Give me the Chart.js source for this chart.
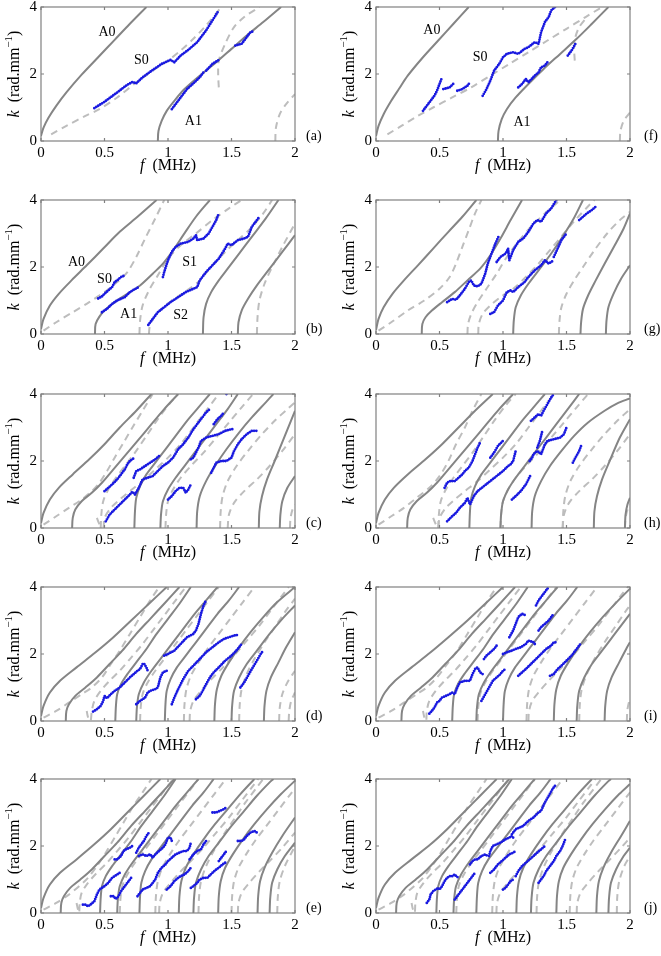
<!DOCTYPE html>
<html>
<head>
<meta charset="utf-8">
<script src="https://cdn.jsdelivr.net/npm/chart.js@4.4.1/dist/chart.umd.min.js"></script>
<style>
  body { margin: 0; background: #fff; width: 661px; height: 956px; position: relative; overflow: hidden; }
  canvas { position: absolute; }
</style>
</head>
<body>
<script>
// tick labels
const fTicks = [0, 0.5, 1, 1.5, 2];
const kTicks = [0, 2, 4];

// each curve is a flat list f0,k0,f1,k1,... read from the picture
// ---------- (a)
const aSolid = [
  [0,0.15, 0.02,0.4, 0.06,0.7, 0.12,1.05, 0.2,1.45, 0.32,1.98, 0.45,2.5, 0.58,3.02, 0.7,3.5, 0.83,4.0],
  [0.92,0, 0.925,0.3, 0.95,0.6, 0.99,0.9, 1.05,1.2, 1.13,1.55, 1.25,1.95, 1.38,2.35, 1.5,2.75, 1.62,3.15, 1.75,3.55, 1.89,4.0]
];
const aDashed = [
  [0.08,0.2, 0.2,0.45, 0.35,0.75, 0.46,0.95, 0.6,1.3, 0.75,1.75, 0.9,2.15, 1.0,2.4, 1.1,2.7, 1.2,3.05, 1.3,3.45, 1.42,4.0],
  [1.40,1.6, 1.395,2.0, 1.40,2.4, 1.45,2.9, 1.52,3.4, 1.6,3.7, 1.72,4.0],
  [1.845,0, 1.85,0.4, 1.88,0.8, 1.93,1.1, 2.0,1.4]
];
const aBlue = [
  [0.42,0.98, 0.5,1.17, 0.6,1.45, 0.68,1.68, 0.72,1.76, 0.75,1.72, 0.8,1.9, 0.88,2.12, 0.95,2.3, 1.02,2.42, 1.05,2.35, 1.1,2.55, 1.16,2.72, 1.23,2.95, 1.3,3.3, 1.35,3.6, 1.40,3.9],
  [1.03,0.95, 1.06,1.1, 1.1,1.3, 1.15,1.55, 1.2,1.72, 1.25,1.9, 1.28,2.05],
  [1.3,2.1, 1.35,2.3, 1.40,2.42],
  [1.53,2.85, 1.58,2.9, 1.62,3.1, 1.65,3.25, 1.68,3.28]
];
// ---------- (f)
const fSolid = [
  [0,0.15, 0.02,0.45, 0.06,0.8, 0.12,1.2, 0.18,1.55, 0.25,1.95, 0.37,2.5, 0.49,3.0, 0.61,3.5, 0.73,4.0],
  [0.96,0, 0.965,0.3, 0.99,0.65, 1.03,0.95, 1.1,1.3, 1.2,1.7, 1.32,2.15, 1.45,2.6, 1.58,3.05, 1.7,3.5, 1.83,4.0]
];
const fDashed = [
  [0.09,0.2, 0.2,0.45, 0.33,0.75, 0.45,1.0, 0.6,1.3, 0.75,1.6, 0.9,1.95, 1.05,2.3, 1.2,2.65, 1.35,3.0, 1.5,3.35, 1.65,3.7, 1.78,4.0],
  [1.565,2.4, 1.56,2.8, 1.57,3.1, 1.6,3.4, 1.65,3.65],
  [1.92,0, 1.925,0.3, 1.95,0.6, 2.0,0.85]
];
const fBlue = [
  [0.37,0.9, 0.4,1.05, 0.43,1.2, 0.46,1.35, 0.48,1.5, 0.5,1.7, 0.52,1.9],
  [0.53,1.55, 0.58,1.6, 0.62,1.75],
  [0.64,1.5, 0.68,1.55, 0.72,1.65, 0.74,1.75],
  [0.84,1.35, 0.87,1.55, 0.9,1.8, 0.93,2.1, 0.97,2.3, 1.0,2.5, 1.03,2.6, 1.08,2.65, 1.12,2.6, 1.17,2.75, 1.2,2.8, 1.25,2.95, 1.28,2.9, 1.3,3.25, 1.33,3.55, 1.36,3.7, 1.38,3.9, 1.41,4.0],
  [1.12,1.6, 1.15,1.7, 1.18,1.85, 1.2,1.75, 1.25,1.95, 1.28,2.05, 1.3,2.2, 1.33,2.25, 1.36,2.4],
  [1.51,2.55, 1.54,2.7, 1.57,2.9]
];
// ---------- (b)
const bSolid = [
  [0,0.15, 0.02,0.45, 0.07,0.85, 0.14,1.2, 0.24,1.6, 0.36,2.05, 0.49,2.55, 0.62,3.05, 0.76,3.5, 0.91,4.0],
  [0.425,0, 0.43,0.3, 0.46,0.52, 0.5,0.7, 0.58,0.95, 0.68,1.2, 0.78,1.45, 0.88,1.8, 0.96,2.1, 1.04,2.5, 1.12,2.95, 1.22,3.5, 1.33,4.0],
  [1.275,0, 1.28,0.5, 1.3,0.9, 1.34,1.25, 1.4,1.6, 1.47,1.95, 1.56,2.4, 1.66,2.9, 1.77,3.45, 1.87,4.0],
  [1.55,0, 1.555,0.35, 1.58,0.7, 1.63,1.05, 1.7,1.45, 1.8,1.95, 1.9,2.45, 2.0,2.95]
];
const bDashed = [
  [0.02,0.1, 0.12,0.35, 0.25,0.65, 0.38,0.95, 0.5,1.25, 0.6,1.55, 0.68,1.85, 0.75,2.3, 0.82,2.85, 0.9,3.45, 0.97,4.0],
  [0.775,0, 0.78,0.4, 0.8,0.85, 0.85,1.3, 0.92,1.75, 1.0,2.25, 1.1,2.65, 1.22,3.0, 1.35,3.4, 1.48,3.75, 1.58,4.0],
  [0.85,0, 0.855,0.2, 0.88,0.45, 0.95,0.75, 1.05,1.05, 1.15,1.3, 1.25,1.6, 1.35,2.05, 1.45,2.45, 1.55,2.8, 1.65,3.15, 1.75,3.6, 1.82,4.0],
  [1.70,0, 1.705,0.5, 1.72,1.0, 1.76,1.5, 1.82,2.0, 1.9,2.6, 2.0,3.3]
];
const bBlue = [
  [0.45,1.06, 0.48,1.12, 0.5,1.2, 0.53,1.3, 0.56,1.4, 0.58,1.55, 0.6,1.6, 0.63,1.7, 0.66,1.75],
  [0.48,0.65, 0.52,0.75, 0.56,0.9, 0.6,1.0, 0.63,1.05, 0.66,1.1, 0.7,1.25, 0.73,1.32, 0.77,1.4],
  [0.96,1.7, 0.97,1.85, 1.0,2.2, 1.03,2.45, 1.06,2.6, 1.1,2.7, 1.16,2.75, 1.2,2.85, 1.22,2.95, 1.23,2.8, 1.28,2.85, 1.32,3.0, 1.35,3.2, 1.38,3.4, 1.40,3.6],
  [0.845,0.27, 0.88,0.45, 0.92,0.65, 0.97,0.8, 1.02,0.95, 1.08,1.1, 1.14,1.25, 1.2,1.35, 1.23,1.4, 1.25,1.6, 1.3,1.85, 1.35,2.05, 1.4,2.25, 1.45,2.55, 1.47,2.7, 1.5,2.65, 1.55,2.8, 1.6,2.85, 1.63,2.9, 1.66,3.2, 1.7,3.4, 1.72,3.5]
];
// ---------- (g)
const gSolid = [
  [0,0.12, 0.02,0.45, 0.06,0.8, 0.13,1.2, 0.22,1.6, 0.33,2.05, 0.45,2.55, 0.57,3.05, 0.68,3.5, 0.79,4.0],
  [0.36,0, 0.365,0.3, 0.39,0.5, 0.44,0.7, 0.52,0.95, 0.62,1.25, 0.72,1.6, 0.82,1.95, 0.9,2.35, 0.98,2.85, 1.06,3.4, 1.15,4.0],
  [1.08,0, 1.085,0.4, 1.1,0.8, 1.14,1.15, 1.2,1.5, 1.28,1.9, 1.37,2.35, 1.46,2.85, 1.55,3.4, 1.63,4.0],
  [1.61,0, 1.615,0.35, 1.63,0.75, 1.67,1.15, 1.73,1.6, 1.8,2.1, 1.88,2.65, 1.95,3.15, 2.0,3.6],
  [1.81,0, 1.815,0.4, 1.83,0.8, 1.87,1.2, 1.93,1.65, 2.0,2.05]
];
const gDashed = [
  [0.02,0.1, 0.12,0.35, 0.25,0.7, 0.38,1.0, 0.5,1.35, 0.58,1.7, 0.63,2.1, 0.68,2.6, 0.73,3.1, 0.78,3.6, 0.83,4.0],
  [0.72,0, 0.725,0.3, 0.75,0.6, 0.8,0.95, 0.87,1.35, 0.95,1.8, 1.03,2.3, 1.12,2.75, 1.22,3.2, 1.33,3.6, 1.45,4.0],
  [0.805,0, 0.81,0.3, 0.84,0.6, 0.9,0.85, 0.98,1.1, 1.08,1.35, 1.18,1.7, 1.28,2.1, 1.38,2.55, 1.48,3.0, 1.58,3.45, 1.68,3.85, 1.72,4.0],
  [1.44,0, 1.445,0.4, 1.46,0.8, 1.5,1.2, 1.56,1.6, 1.63,2.0, 1.72,2.5, 1.82,3.0, 1.92,3.4, 2.0,3.65]
];
const gBlue = [
  [0.56,0.95, 0.6,1.05, 0.63,1.02, 0.66,1.15, 0.7,1.35, 0.73,1.55, 0.75,1.6, 0.77,1.45, 0.8,1.42, 0.83,1.5, 0.86,1.8, 0.88,2.1, 0.91,2.4, 0.94,2.7, 0.97,2.95],
  [0.95,2.15, 0.98,2.3, 1.02,2.4, 1.04,2.55, 1.05,2.2, 1.08,2.5, 1.12,2.75, 1.16,2.85, 1.2,3.05, 1.24,3.3, 1.27,3.4, 1.3,3.35, 1.34,3.6, 1.38,3.75, 1.42,4.0],
  [0.9,0.6, 0.93,0.65, 0.96,0.85, 1.0,1.0, 1.03,1.25, 1.06,1.3, 1.08,1.25, 1.12,1.4, 1.17,1.55, 1.2,1.7, 1.25,1.9, 1.3,2.05, 1.33,2.2, 1.36,2.1, 1.4,2.2],
  [1.4,2.3, 1.43,2.55, 1.46,2.8, 1.5,3.0],
  [1.6,3.4, 1.63,3.5, 1.66,3.6, 1.7,3.7, 1.73,3.8]
];
// ---------- (c)
const cSolid = [
  [0,0.15, 0.02,0.45, 0.07,0.85, 0.14,1.2, 0.25,1.6, 0.38,2.05, 0.5,2.5, 0.62,3.0, 0.75,3.5, 0.87,4.0],
  [0.245,0, 0.25,0.3, 0.27,0.55, 0.32,0.8, 0.4,1.05, 0.48,1.35, 0.57,1.75, 0.66,2.15, 0.76,2.6, 0.87,3.1, 0.97,3.55, 1.08,4.0],
  [0.735,0, 0.74,0.5, 0.75,0.9, 0.78,1.25, 0.83,1.6, 0.9,1.95, 0.98,2.35, 1.06,2.75, 1.15,3.2, 1.24,3.6, 1.33,4.0],
  [0.94,0, 0.945,0.4, 0.96,0.8, 1.0,1.15, 1.06,1.5, 1.14,1.9, 1.22,2.3, 1.3,2.7, 1.38,3.1, 1.47,3.55, 1.55,4.0],
  [1.225,0, 1.23,0.5, 1.25,0.95, 1.3,1.4, 1.37,1.85, 1.46,2.35, 1.56,2.85, 1.66,3.3, 1.77,3.75, 1.83,4.0],
  [1.715,0, 1.72,0.5, 1.74,0.95, 1.78,1.45, 1.84,2.0, 1.92,2.75, 2.0,3.5],
  [1.88,0, 1.885,0.4, 1.9,0.8, 1.94,1.2, 2.0,1.55]
];
const cDashed = [
  [0.02,0.1, 0.12,0.35, 0.22,0.6, 0.32,0.85, 0.4,1.1, 0.46,1.35, 0.52,1.7, 0.58,2.1, 0.65,2.55, 0.72,3.0, 0.8,3.5, 0.88,4.0],
  [0.47,0, 0.475,0.4, 0.49,0.8, 0.53,1.15, 0.59,1.5, 0.66,1.85, 0.74,2.25, 0.83,2.75, 0.92,3.25, 1.01,3.7, 1.08,4.0],
  [0.44,0.3, 0.46,0.12, 0.49,0, 0.5,0.3, 0.55,0.6, 0.62,0.85, 0.7,1.1, 0.8,1.4, 0.9,1.75, 1.0,2.1, 1.1,2.5, 1.2,3.0, 1.3,3.5, 1.4,4.0],
  [0.98,0, 0.985,0.4, 1.0,0.8, 1.04,1.15, 1.1,1.5, 1.18,1.85, 1.28,2.25, 1.38,2.7, 1.48,3.15, 1.58,3.6, 1.67,4.0],
  [1.41,0, 1.415,0.5, 1.43,0.95, 1.47,1.4, 1.54,1.85, 1.64,2.35, 1.74,2.8, 1.84,3.2, 1.94,3.55, 2.0,3.75],
  [1.47,0, 1.48,0.4, 1.52,0.75, 1.6,1.1, 1.7,1.45, 1.8,1.85, 1.9,2.3, 2.0,2.8],
  [1.96,0, 1.965,0.3, 1.98,0.55, 2.0,0.7]
];
const cBlue = [
  [0.5,1.1, 0.53,1.2, 0.56,1.3, 0.6,1.45, 0.63,1.6, 0.66,1.75, 0.68,1.9, 0.7,2.0, 0.73,2.08],
  [0.73,1.5, 0.75,1.7, 0.78,1.75, 0.82,1.85, 0.86,1.95, 0.9,2.05, 0.93,2.15],
  [0.51,0.2, 0.54,0.4, 0.58,0.55, 0.62,0.7, 0.66,0.85, 0.7,1.0, 0.72,1.08, 0.74,1.0, 0.77,1.2, 0.8,1.45, 0.84,1.5, 0.88,1.55, 0.92,1.7, 0.96,1.85, 1.0,1.95, 1.04,2.1, 1.08,2.35, 1.12,2.5, 1.16,2.7, 1.2,2.95, 1.25,3.2, 1.3,3.45, 1.33,3.55],
  [1.0,0.85, 1.03,0.95, 1.06,1.1, 1.09,1.2, 1.12,1.2, 1.14,1.05, 1.16,1.15, 1.18,1.3],
  [1.18,2.05, 1.2,2.1, 1.22,2.25, 1.24,2.4, 1.26,2.6, 1.3,2.7, 1.35,2.75, 1.4,2.8, 1.45,2.9, 1.5,2.95, 1.52,2.95],
  [1.36,3.1, 1.39,3.25, 1.42,3.35, 1.44,3.45],
  [1.34,1.65, 1.36,1.8, 1.38,1.95, 1.42,2.0, 1.46,2.0, 1.5,2.1, 1.52,2.3, 1.55,2.5, 1.58,2.65, 1.62,2.8, 1.66,2.9, 1.7,2.9],
  [1.46,4.0, 1.47,3.95]
];
// ---------- (h)
const hSolid = [
  [0,0.15, 0.02,0.45, 0.07,0.85, 0.14,1.2, 0.25,1.6, 0.39,2.05, 0.52,2.5, 0.65,3.0, 0.78,3.5, 0.92,4.0],
  [0.245,0, 0.25,0.3, 0.27,0.55, 0.32,0.8, 0.4,1.05, 0.48,1.35, 0.57,1.75, 0.66,2.15, 0.76,2.6, 0.87,3.1, 0.97,3.55, 1.08,4.0],
  [0.735,0, 0.74,0.5, 0.75,0.9, 0.78,1.25, 0.83,1.6, 0.9,1.95, 0.98,2.35, 1.06,2.75, 1.15,3.2, 1.24,3.6, 1.33,4.0],
  [0.98,0, 0.985,0.4, 1.0,0.8, 1.04,1.15, 1.1,1.5, 1.18,1.9, 1.26,2.3, 1.34,2.7, 1.42,3.1, 1.51,3.55, 1.6,4.0],
  [1.225,0, 1.23,0.5, 1.25,0.95, 1.3,1.4, 1.37,1.85, 1.46,2.3, 1.56,2.75, 1.67,3.15, 1.8,3.5, 1.9,3.72, 2.0,3.87],
  [1.715,0, 1.72,0.5, 1.74,0.95, 1.78,1.45, 1.84,2.0, 1.92,2.7, 2.0,3.25],
  [1.96,0, 1.965,0.4, 1.98,0.7, 2.0,0.9]
];
const hDashed = [
  [0.02,0.1, 0.12,0.35, 0.22,0.6, 0.32,0.9, 0.42,1.2, 0.5,1.55, 0.57,2.0, 0.63,2.5, 0.7,3.0, 0.76,3.5, 0.83,4.0],
  [0.49,0, 0.495,0.4, 0.51,0.8, 0.55,1.15, 0.61,1.5, 0.68,1.85, 0.76,2.25, 0.85,2.75, 0.94,3.25, 1.03,3.7, 1.1,4.0],
  [0.45,0.3, 0.47,0.12, 0.49,0, 0.5,0.3, 0.55,0.6, 0.62,0.85, 0.7,1.1, 0.8,1.4, 0.9,1.75, 1.0,2.1, 1.1,2.5, 1.2,3.0, 1.3,3.5, 1.4,4.0],
  [0.98,0, 0.985,0.4, 1.0,0.8, 1.04,1.15, 1.1,1.5, 1.18,1.85, 1.28,2.25, 1.38,2.7, 1.48,3.15, 1.58,3.6, 1.67,4.0],
  [1.47,0, 1.475,0.5, 1.49,0.95, 1.53,1.4, 1.6,1.85, 1.7,2.35, 1.8,2.8, 1.9,3.2, 2.0,3.55],
  [1.47,0, 1.48,0.4, 1.52,0.75, 1.6,1.1, 1.7,1.45, 1.8,1.85, 1.9,2.3, 2.0,2.8],
  [1.96,0, 1.965,0.3, 1.98,0.55, 2.0,0.7]
];
const hBlue = [
  [0.54,1.2, 0.56,1.35, 0.58,1.4, 0.62,1.4, 0.65,1.5, 0.68,1.6, 0.7,1.7, 0.73,1.8, 0.76,2.0, 0.78,2.2, 0.8,2.4, 0.82,2.55],
  [0.9,2.1, 0.93,2.25, 0.96,2.45, 1.0,2.6],
  [0.56,0.2, 0.6,0.35, 0.63,0.45, 0.66,0.6, 0.7,0.75, 0.72,0.9, 0.74,0.7, 0.77,0.95, 0.8,1.1, 0.85,1.25, 0.9,1.4, 0.95,1.55, 1.0,1.7, 1.04,1.85, 1.06,1.9, 1.08,2.0, 1.1,2.3],
  [1.07,0.85, 1.1,0.95, 1.14,1.1, 1.18,1.3, 1.2,1.45, 1.22,1.6],
  [1.21,2.0, 1.23,2.1, 1.24,2.2, 1.27,2.3, 1.3,2.2, 1.33,2.5, 1.35,2.6, 1.4,2.65, 1.45,2.7, 1.48,2.8, 1.5,3.0],
  [1.27,2.4, 1.29,2.6, 1.31,2.9],
  [1.22,3.2, 1.25,3.3, 1.28,3.4, 1.3,3.35, 1.32,3.5, 1.35,3.7, 1.38,3.9, 1.4,4.0],
  [1.55,1.95, 1.57,2.1, 1.6,2.3, 1.62,2.5]
];
// ---------- (d)
const dSolid = [
  [0,0.15, 0.02,0.45, 0.07,0.85, 0.15,1.2, 0.28,1.6, 0.43,2.05, 0.57,2.5, 0.71,3.0, 0.85,3.5, 0.99,4.0],
  [0.195,0, 0.2,0.3, 0.22,0.5, 0.27,0.75, 0.35,1.0, 0.44,1.3, 0.54,1.7, 0.64,2.1, 0.75,2.6, 0.86,3.05, 0.97,3.5, 1.09,4.0],
  [0.585,0, 0.59,0.45, 0.6,0.8, 0.63,1.1, 0.68,1.4, 0.75,1.75, 0.83,2.15, 0.91,2.6, 1.0,3.05, 1.09,3.5, 1.18,4.0],
  [0.75,0, 0.755,0.4, 0.77,0.8, 0.81,1.15, 0.87,1.5, 0.95,1.9, 1.03,2.3, 1.12,2.75, 1.21,3.2, 1.3,3.6, 1.39,4.0],
  [0.975,0, 0.98,0.5, 0.99,0.9, 1.02,1.25, 1.07,1.6, 1.14,1.95, 1.22,2.35, 1.3,2.75, 1.39,3.2, 1.48,3.6, 1.56,4.0],
  [1.365,0, 1.37,0.5, 1.385,0.95, 1.42,1.35, 1.48,1.75, 1.56,2.2, 1.65,2.65, 1.75,3.1, 1.86,3.55, 2.0,4.0],
  [1.50,0, 1.505,0.45, 1.52,0.9, 1.56,1.3, 1.62,1.7, 1.7,2.1, 1.8,2.6, 1.9,3.05, 2.0,3.45],
  [1.755,0, 1.76,0.45, 1.775,0.9, 1.81,1.3, 1.87,1.75, 1.93,2.2, 2.0,2.65]
];
const dDashed = [
  [0.02,0.1, 0.12,0.3, 0.22,0.55, 0.32,0.8, 0.4,1.0, 0.48,1.3, 0.55,1.7, 0.62,2.1, 0.7,2.6, 0.78,3.1, 0.86,3.6, 0.93,4.0],
  [0.36,0.3, 0.37,0.12, 0.39,0, 0.4,0.3, 0.42,0.6, 0.47,0.9, 0.54,1.2, 0.62,1.5, 0.7,1.85, 0.79,2.25, 0.88,2.7, 0.97,3.15, 1.06,3.6, 1.14,4.0],
  [0.78,0, 0.785,0.4, 0.8,0.8, 0.84,1.15, 0.9,1.5, 0.97,1.85, 1.05,2.25, 1.14,2.7, 1.23,3.15, 1.32,3.6, 1.4,4.0],
  [1.125,0, 1.13,0.5, 1.145,0.95, 1.18,1.35, 1.24,1.75, 1.31,2.15, 1.4,2.6, 1.49,3.05, 1.59,3.55, 1.68,4.0],
  [1.17,0, 1.175,0.3, 1.2,0.6, 1.26,0.9, 1.33,1.2, 1.42,1.55, 1.52,1.95, 1.62,2.4, 1.72,2.85, 1.82,3.35, 1.9,3.75, 1.95,4.0],
  [1.56,0, 1.565,0.5, 1.58,0.95, 1.62,1.4, 1.68,1.85, 1.76,2.35, 1.85,2.85, 1.93,3.3, 2.0,3.65],
  [1.875,0, 1.88,0.4, 1.9,0.8, 1.94,1.15, 2.0,1.5],
  [1.95,0, 1.955,0.3, 1.97,0.6, 2.0,0.85]
];
const dBlue = [
  [0.41,0.28, 0.44,0.35, 0.47,0.45, 0.49,0.6, 0.5,0.75, 0.52,0.68, 0.55,0.8, 0.58,0.9, 0.62,1.0, 0.66,1.15, 0.7,1.3, 0.73,1.4, 0.76,1.5, 0.78,1.55, 0.8,1.7, 0.81,1.72, 0.83,1.6, 0.84,1.5],
  [0.75,0.5, 0.78,0.6, 0.82,0.7, 0.84,0.85, 0.86,0.9, 0.9,0.95, 0.92,1.0, 0.94,1.3, 0.96,1.45, 0.99,1.5],
  [0.97,1.95, 1.0,2.0, 1.05,2.1, 1.1,2.3, 1.15,2.5, 1.2,2.6, 1.22,2.7, 1.24,2.9, 1.26,3.2, 1.28,3.45, 1.3,3.6],
  [1.03,0.5, 1.05,0.7, 1.08,0.95, 1.12,1.25, 1.16,1.5, 1.2,1.65, 1.25,1.85, 1.3,2.05, 1.35,2.2, 1.4,2.35, 1.44,2.45, 1.48,2.5, 1.52,2.55, 1.55,2.57],
  [1.22,0.65, 1.25,0.75, 1.28,0.95, 1.3,1.1, 1.33,1.3, 1.36,1.45, 1.4,1.6, 1.45,1.8, 1.5,1.95, 1.55,2.15, 1.58,2.3],
  [1.57,1.0, 1.6,1.15, 1.63,1.35, 1.66,1.55, 1.7,1.8, 1.73,2.0, 1.75,2.1]
];
// ---------- (i)
const iSolid = [
  [0,0.15, 0.02,0.45, 0.07,0.85, 0.15,1.2, 0.28,1.6, 0.43,2.05, 0.57,2.5, 0.72,3.0, 0.86,3.5, 1.0,4.0],
  [0.2,0, 0.205,0.3, 0.225,0.5, 0.275,0.75, 0.355,1.0, 0.445,1.3, 0.545,1.7, 0.645,2.1, 0.755,2.6, 0.865,3.05, 0.975,3.5, 1.095,4.0],
  [0.6,0, 0.605,0.45, 0.615,0.8, 0.645,1.1, 0.695,1.4, 0.765,1.75, 0.845,2.15, 0.925,2.6, 1.015,3.05, 1.105,3.5, 1.195,4.0],
  [0.79,0, 0.795,0.4, 0.81,0.8, 0.85,1.15, 0.91,1.5, 0.99,1.9, 1.07,2.3, 1.16,2.75, 1.25,3.2, 1.34,3.6, 1.43,4.0],
  [1.0,0, 1.005,0.5, 1.015,0.9, 1.045,1.25, 1.095,1.6, 1.165,1.95, 1.245,2.35, 1.325,2.75, 1.415,3.2, 1.505,3.6, 1.585,4.0],
  [1.4,0, 1.405,0.5, 1.42,0.95, 1.455,1.35, 1.515,1.75, 1.595,2.2, 1.685,2.65, 1.785,3.1, 1.895,3.55, 2.0,3.95],
  [1.58,0, 1.585,0.45, 1.6,0.9, 1.64,1.3, 1.7,1.7, 1.78,2.1, 1.88,2.6, 1.97,3.05, 2.0,3.2],
  [1.8,0, 1.805,0.45, 1.82,0.9, 1.855,1.3, 1.915,1.75, 1.97,2.15, 2.0,2.35]
];
const iDashed = [
  [0.02,0.1, 0.12,0.3, 0.22,0.55, 0.32,0.8, 0.4,1.0, 0.48,1.3, 0.56,1.7, 0.64,2.1, 0.72,2.6, 0.8,3.1, 0.88,3.6, 0.95,4.0],
  [0.37,0.3, 0.38,0.12, 0.395,0, 0.4,0.3, 0.42,0.6, 0.47,0.9, 0.54,1.2, 0.62,1.5, 0.7,1.85, 0.79,2.25, 0.88,2.7, 0.97,3.15, 1.06,3.6, 1.14,4.0],
  [0.8,0, 0.805,0.4, 0.82,0.8, 0.86,1.15, 0.92,1.5, 0.99,1.85, 1.07,2.25, 1.16,2.7, 1.25,3.15, 1.34,3.6, 1.42,4.0],
  [1.185,0, 1.19,0.5, 1.205,0.95, 1.24,1.35, 1.3,1.75, 1.37,2.15, 1.46,2.6, 1.55,3.05, 1.65,3.55, 1.74,4.0],
  [1.2,0, 1.205,0.3, 1.23,0.6, 1.29,0.9, 1.36,1.2, 1.45,1.55, 1.55,1.95, 1.65,2.4, 1.75,2.85, 1.85,3.35, 1.93,3.75, 1.98,4.0],
  [1.6,0, 1.605,0.5, 1.62,0.95, 1.66,1.4, 1.72,1.85, 1.8,2.35, 1.89,2.85, 1.97,3.3, 2.0,3.45],
  [1.975,0, 1.98,0.35, 2.0,0.7]
];
const iBlue = [
  [0.42,0.22, 0.44,0.3, 0.46,0.4, 0.48,0.55, 0.5,0.6, 0.52,0.7, 0.55,0.75, 0.58,0.8, 0.6,0.85, 0.62,0.8, 0.64,1.0, 0.66,1.15, 0.7,1.2, 0.74,1.2, 0.76,1.4, 0.78,1.55, 0.8,1.6, 0.82,1.45, 0.84,1.4],
  [0.85,1.85, 0.87,1.95, 0.9,2.05, 0.93,2.15, 0.96,2.3],
  [0.83,0.6, 0.86,0.8, 0.89,1.0, 0.92,1.2, 0.95,1.3, 0.98,1.4, 1.0,1.5, 1.02,1.55],
  [1.0,2.0, 1.03,2.05, 1.07,2.1, 1.1,2.15, 1.14,2.2, 1.18,2.3, 1.2,2.4, 1.24,2.35, 1.26,2.25],
  [1.05,2.5, 1.08,2.7, 1.1,2.9, 1.12,3.1, 1.15,3.2, 1.18,3.15],
  [1.26,3.45, 1.28,3.6, 1.32,3.8, 1.36,4.0],
  [1.28,2.7, 1.3,2.8, 1.33,2.9, 1.36,3.0, 1.38,3.1, 1.4,3.2],
  [1.12,1.35, 1.15,1.45, 1.18,1.55, 1.22,1.7, 1.26,1.85, 1.3,2.0, 1.34,2.15, 1.38,2.25, 1.4,2.35, 1.42,2.35],
  [1.37,1.35, 1.4,1.4, 1.43,1.55, 1.46,1.65, 1.5,1.8, 1.54,1.95, 1.58,2.15, 1.61,2.3]
];
// ---------- (e)
const eSolid = [
  [0,0.15, 0.02,0.45, 0.07,0.85, 0.15,1.2, 0.28,1.6, 0.42,2.05, 0.55,2.5, 0.68,3.0, 0.81,3.5, 0.94,4.0],
  [0.155,0, 0.16,0.3, 0.18,0.5, 0.23,0.75, 0.31,1.0, 0.4,1.3, 0.5,1.7, 0.6,2.1, 0.71,2.6, 0.82,3.05, 0.93,3.5, 1.05,4.0],
  [0.465,0, 0.47,0.45, 0.48,0.8, 0.51,1.1, 0.56,1.4, 0.63,1.75, 0.71,2.15, 0.79,2.6, 0.88,3.05, 0.97,3.5, 1.06,4.0],
  [0.60,0, 0.605,0.4, 0.62,0.8, 0.66,1.15, 0.72,1.5, 0.8,1.9, 0.88,2.3, 0.97,2.75, 1.06,3.2, 1.15,3.6, 1.24,4.0],
  [0.775,0, 0.78,0.5, 0.79,0.9, 0.82,1.25, 0.87,1.6, 0.94,1.95, 1.02,2.35, 1.1,2.75, 1.19,3.2, 1.28,3.6, 1.36,4.0],
  [1.085,0, 1.09,0.5, 1.105,0.95, 1.14,1.35, 1.2,1.75, 1.28,2.2, 1.37,2.65, 1.47,3.1, 1.57,3.55, 1.68,4.0],
  [1.2,0, 1.205,0.45, 1.22,0.9, 1.26,1.3, 1.32,1.7, 1.4,2.1, 1.5,2.6, 1.6,3.05, 1.7,3.5, 1.8,3.9, 1.83,4.0],
  [1.395,0, 1.4,0.5, 1.415,0.95, 1.45,1.35, 1.51,1.75, 1.59,2.2, 1.68,2.65, 1.78,3.1, 1.89,3.55, 2.0,3.95],
  [1.705,0, 1.71,0.5, 1.725,0.95, 1.76,1.35, 1.82,1.8, 1.9,2.3, 2.0,2.85],
  [1.8,0, 1.805,0.45, 1.82,0.9, 1.86,1.3, 1.92,1.7, 2.0,2.1]
];
const eDashed = [
  [0.02,0.1, 0.12,0.3, 0.22,0.55, 0.3,0.8, 0.37,1.05, 0.44,1.4, 0.51,1.8, 0.58,2.25, 0.65,2.7, 0.72,3.15, 0.8,3.6, 0.87,4.0],
  [0.28,0.3, 0.29,0.12, 0.30,0, 0.305,0.3, 0.32,0.6, 0.37,0.9, 0.44,1.2, 0.52,1.5, 0.6,1.85, 0.69,2.25, 0.78,2.7, 0.87,3.15, 0.96,3.6, 1.04,4.0],
  [0.62,0, 0.625,0.4, 0.64,0.8, 0.68,1.15, 0.74,1.5, 0.81,1.85, 0.89,2.25, 0.98,2.7, 1.07,3.15, 1.16,3.6, 1.24,4.0],
  [0.9,0, 0.905,0.5, 0.92,0.95, 0.955,1.35, 1.015,1.75, 1.085,2.15, 1.175,2.6, 1.265,3.05, 1.365,3.55, 1.455,4.0],
  [0.93,0, 0.935,0.3, 0.96,0.6, 1.02,0.9, 1.09,1.2, 1.18,1.55, 1.28,1.95, 1.38,2.4, 1.48,2.85, 1.58,3.35, 1.66,3.75, 1.71,4.0],
  [1.24,0, 1.245,0.5, 1.26,0.95, 1.3,1.4, 1.36,1.85, 1.44,2.35, 1.53,2.85, 1.61,3.3, 1.7,3.75, 1.75,4.0],
  [1.5,0, 1.505,0.5, 1.52,0.95, 1.555,1.35, 1.615,1.75, 1.685,2.15, 1.775,2.6, 1.865,3.05, 1.965,3.55, 2.0,3.7],
  [1.55,0, 1.555,0.3, 1.58,0.6, 1.64,0.9, 1.71,1.2, 1.8,1.55, 1.9,1.95, 2.0,2.4],
  [1.86,0, 1.865,0.5, 1.88,0.95, 1.92,1.4, 1.98,1.85, 2.0,2.0]
];
const eBlue = [
  [0.33,0.25, 0.35,0.25, 0.37,0.2, 0.39,0.25, 0.42,0.35, 0.44,0.55, 0.46,0.7, 0.48,0.75, 0.5,0.8, 0.53,0.9, 0.56,1.05, 0.6,1.15, 0.62,1.2],
  [0.58,1.6, 0.6,1.6, 0.63,1.7, 0.65,1.85, 0.67,1.9, 0.7,1.95, 0.72,2.0],
  [0.55,0.5, 0.57,0.5, 0.59,0.42, 0.61,0.5, 0.63,0.65, 0.65,0.75, 0.67,0.85, 0.7,1.0, 0.72,1.1],
  [0.75,1.8, 0.77,1.95, 0.79,2.05, 0.81,2.15, 0.83,2.3, 0.85,2.4],
  [0.77,1.7, 0.8,1.75, 0.83,1.7, 0.86,1.75, 0.88,1.65, 0.9,1.75, 0.93,1.85, 0.96,1.95, 0.98,2.05, 1.0,2.25, 1.02,2.25, 1.03,2.15],
  [0.76,0.5, 0.78,0.6, 0.8,0.7, 0.83,0.75, 0.86,0.8, 0.88,0.9, 0.9,1.0, 0.92,1.2, 0.95,1.35, 0.98,1.45, 1.0,1.55, 1.03,1.65, 1.06,1.75, 1.09,1.8, 1.12,1.85, 1.15,1.85, 1.17,1.95, 1.18,2.1],
  [0.99,0.7, 1.02,0.8, 1.05,0.95, 1.08,1.05, 1.1,1.1, 1.13,1.15, 1.16,1.25, 1.18,1.35],
  [1.17,1.6, 1.2,1.75, 1.23,1.85, 1.26,1.9, 1.28,2.05, 1.31,2.2],
  [1.18,0.75, 1.2,0.8, 1.23,0.9, 1.25,1.0, 1.28,1.05, 1.31,1.05, 1.35,1.2, 1.38,1.3, 1.4,1.35, 1.43,1.45, 1.45,1.5, 1.46,1.45],
  [1.4,1.55, 1.42,1.65, 1.44,1.75, 1.46,1.85],
  [1.35,3.0, 1.38,3.0, 1.41,3.05, 1.44,3.1, 1.46,3.15],
  [1.55,2.15, 1.58,2.15, 1.6,2.2, 1.62,2.3, 1.65,2.4, 1.68,2.45, 1.7,2.4]
];
// ---------- (j)
const jSolid = [
  [0,0.15, 0.02,0.45, 0.07,0.85, 0.15,1.2, 0.28,1.6, 0.43,2.05, 0.56,2.5, 0.69,3.0, 0.82,3.5, 0.95,4.0],
  [0.158,0, 0.163,0.3, 0.183,0.5, 0.233,0.75, 0.313,1.0, 0.403,1.3, 0.503,1.7, 0.603,2.1, 0.713,2.6, 0.823,3.05, 0.933,3.5, 1.05,4.0],
  [0.475,0, 0.48,0.45, 0.49,0.8, 0.52,1.1, 0.57,1.4, 0.64,1.75, 0.72,2.15, 0.8,2.6, 0.89,3.05, 0.98,3.5, 1.07,4.0],
  [0.61,0, 0.615,0.4, 0.63,0.8, 0.67,1.15, 0.73,1.5, 0.81,1.9, 0.89,2.3, 0.98,2.75, 1.07,3.2, 1.16,3.6, 1.25,4.0],
  [0.79,0, 0.795,0.5, 0.805,0.9, 0.835,1.25, 0.885,1.6, 0.955,1.95, 1.035,2.35, 1.115,2.75, 1.205,3.2, 1.295,3.6, 1.375,4.0],
  [1.105,0, 1.11,0.5, 1.125,0.95, 1.16,1.35, 1.22,1.75, 1.3,2.2, 1.39,2.65, 1.49,3.1, 1.59,3.55, 1.7,4.0],
  [1.22,0, 1.225,0.45, 1.24,0.9, 1.28,1.3, 1.34,1.7, 1.42,2.1, 1.52,2.6, 1.62,3.05, 1.72,3.5, 1.82,3.9, 1.85,4.0],
  [1.42,0, 1.425,0.5, 1.44,0.95, 1.475,1.35, 1.535,1.75, 1.615,2.2, 1.705,2.65, 1.805,3.1, 1.915,3.55, 2.0,3.85],
  [1.735,0, 1.74,0.5, 1.755,0.95, 1.79,1.35, 1.85,1.8, 1.93,2.3, 2.0,2.75],
  [1.83,0, 1.835,0.45, 1.85,0.9, 1.89,1.3, 1.95,1.7, 2.0,1.95]
];
const jDashed = [
  [0.02,0.1, 0.12,0.3, 0.22,0.55, 0.3,0.8, 0.37,1.05, 0.44,1.4, 0.51,1.8, 0.58,2.25, 0.65,2.7, 0.72,3.15, 0.8,3.6, 0.87,4.0],
  [0.28,0.3, 0.29,0.12, 0.305,0, 0.31,0.3, 0.325,0.6, 0.375,0.9, 0.445,1.2, 0.525,1.5, 0.605,1.85, 0.695,2.25, 0.785,2.7, 0.875,3.15, 0.965,3.6, 1.045,4.0],
  [0.632,0, 0.637,0.4, 0.652,0.8, 0.692,1.15, 0.752,1.5, 0.822,1.85, 0.902,2.25, 0.992,2.7, 1.082,3.15, 1.172,3.6, 1.252,4.0],
  [0.915,0, 0.92,0.5, 0.935,0.95, 0.97,1.35, 1.03,1.75, 1.1,2.15, 1.19,2.6, 1.28,3.05, 1.38,3.55, 1.47,4.0],
  [0.948,0, 0.953,0.3, 0.978,0.6, 1.038,0.9, 1.108,1.2, 1.198,1.55, 1.298,1.95, 1.398,2.4, 1.498,2.85, 1.598,3.35, 1.678,3.75, 1.728,4.0],
  [1.264,0, 1.269,0.5, 1.284,0.95, 1.324,1.4, 1.384,1.85, 1.464,2.35, 1.554,2.85, 1.634,3.3, 1.724,3.75, 1.774,4.0],
  [1.525,0, 1.53,0.5, 1.545,0.95, 1.58,1.35, 1.64,1.75, 1.71,2.15, 1.8,2.6, 1.89,3.05, 1.99,3.55, 2.0,3.6],
  [1.58,0, 1.585,0.3, 1.61,0.6, 1.67,0.9, 1.74,1.2, 1.83,1.55, 1.93,1.95, 2.0,2.25],
  [1.896,0, 1.9,0.5, 1.915,0.95, 1.955,1.4, 2.0,1.7]
];
const jBlue = [
  [0.4,0.3, 0.42,0.4, 0.43,0.55, 0.45,0.65, 0.47,0.7, 0.49,0.75, 0.5,0.7, 0.52,0.8, 0.54,0.95, 0.56,1.05, 0.58,1.1, 0.6,1.1, 0.62,1.15, 0.63,1.1, 0.65,1.05],
  [0.62,0.4, 0.64,0.5, 0.66,0.6, 0.68,0.7, 0.7,0.8, 0.72,0.9, 0.74,1.0, 0.76,1.1, 0.78,1.2],
  [0.74,1.45, 0.76,1.55, 0.78,1.6, 0.8,1.6, 0.83,1.7, 0.86,1.75, 0.88,1.7],
  [0.89,1.7, 0.9,1.85, 0.92,2.0, 0.95,2.05, 0.98,2.1, 1.0,2.15, 1.02,2.2, 1.05,2.25, 1.07,2.3, 1.09,2.2],
  [0.9,1.2, 0.93,1.3, 0.96,1.45, 0.99,1.55, 1.02,1.65, 1.05,1.75, 1.08,1.8, 1.1,1.85],
  [1.07,2.35, 1.1,2.5, 1.13,2.55, 1.16,2.6, 1.2,2.75, 1.24,2.85, 1.28,3.0, 1.3,3.05, 1.33,3.3, 1.36,3.5, 1.39,3.7, 1.42,3.85],
  [1.0,0.7, 1.02,0.75, 1.04,0.85, 1.06,0.95, 1.08,1.0],
  [1.1,1.1, 1.12,1.25, 1.15,1.4, 1.18,1.5, 1.21,1.6, 1.24,1.7, 1.27,1.8, 1.3,1.9, 1.33,2.0],
  [1.28,0.9, 1.3,1.0, 1.32,1.1, 1.34,1.25, 1.37,1.4, 1.4,1.55, 1.42,1.7, 1.45,1.85, 1.47,2.0, 1.49,2.2]
];

// mode names written inside panels (a), (f) and (b)
const aNotes = [['A0', 0.52, 3.25], ['S0', 0.79, 2.42], ['A1', 1.2, 0.6]];
const fNotes = [['A0', 0.44, 3.3], ['S0', 0.82, 2.5], ['A1', 1.15, 0.57]];
const bNotes = [['A0', 0.28, 2.15], ['S0', 0.5, 1.62], ['A1', 0.69, 0.6], ['S1', 1.17, 2.15], ['S2', 1.1, 0.57]];

const ROWS = [7, 200, 394, 587, 779];       // top of each plot box
const COLS = [
  { left: 0, width: 330, padL: 11, padR: 35, labelDx: 11 },
  { left: 330, width: 331, padL: 16, padR: 31, labelDx: 14 }
];
const panels = [
  { tag: '(a)', row: 0, col: 0, solid: aSolid, dashed: aDashed, blue: aBlue, notes: aNotes },
  { tag: '(f)', row: 0, col: 1, solid: fSolid, dashed: fDashed, blue: fBlue, notes: fNotes },
  { tag: '(b)', row: 1, col: 0, solid: bSolid, dashed: bDashed, blue: bBlue, notes: bNotes },
  { tag: '(g)', row: 1, col: 1, solid: gSolid, dashed: gDashed, blue: gBlue, notes: [] },
  { tag: '(c)', row: 2, col: 0, solid: cSolid, dashed: cDashed, blue: cBlue, notes: [] },
  { tag: '(h)', row: 2, col: 1, solid: hSolid, dashed: hDashed, blue: hBlue, notes: [] },
  { tag: '(d)', row: 3, col: 0, solid: dSolid, dashed: dDashed, blue: dBlue, notes: [] },
  { tag: '(i)', row: 3, col: 1, solid: iSolid, dashed: iDashed, blue: iBlue, notes: [] },
  { tag: '(e)', row: 4, col: 0, solid: eSolid, dashed: eDashed, blue: eBlue, notes: [] },
  { tag: '(j)', row: 4, col: 1, solid: jSolid, dashed: jDashed, blue: jBlue, notes: [] }
];

const SERIF = '"Liberation Serif", "Times New Roman", serif';
const PLOT_H = 134;
const TOP_PAD = 15;
const X_AXIS_H = 30;
const Y_AXIS_W = 30;

function toPts(flat) {
  const out = [];
  for (let i = 0; i < flat.length; i += 2) out.push({ x: flat[i], y: flat[i + 1] });
  return out;
}

// all blue tracks in one dataset, broken by gaps
function joinTracks(tracks) {
  const out = [];
  tracks.forEach((t, n) => {
    if (n > 0) out.push({ x: t[0], y: null });
    out.push(...toPts(t));
  });
  return out;
}

// box, inward ticks, axis titles, panel tag, mode names
const framePlugin = {
  id: 'frame',
  afterDatasetsDraw(chart, args, opts) {
    const { ctx, chartArea: ca, scales } = chart;
    ctx.save();
    ctx.strokeStyle = '#808080';
    ctx.lineWidth = 1.2;
    ctx.strokeRect(ca.left, ca.top, ca.right - ca.left, ca.bottom - ca.top);
    ctx.beginPath();
    fTicks.forEach(v => {
      const px = scales.x.getPixelForValue(v);
      ctx.moveTo(px, ca.bottom); ctx.lineTo(px, ca.bottom - 3);
      ctx.moveTo(px, ca.top); ctx.lineTo(px, ca.top + 3);
    });
    kTicks.forEach(v => {
      const py = scales.y.getPixelForValue(v);
      ctx.moveTo(ca.left, py); ctx.lineTo(ca.left + 3, py);
      ctx.moveTo(ca.right, py); ctx.lineTo(ca.right - 3, py);
    });
    ctx.stroke();

    ctx.fillStyle = '#000';
    ctx.textBaseline = 'middle';

    // mode names
    ctx.font = '14px ' + SERIF;
    ctx.textAlign = 'center';
    opts.notes.forEach(([txt, f, k]) => {
      ctx.fillText(txt, scales.x.getPixelForValue(f), scales.y.getPixelForValue(k));
    });

    // x title: f (MHz)
    const cx = (ca.left + ca.right) / 2;
    const ty = ca.bottom + 25;
    ctx.textAlign = 'left';
    ctx.font = 'italic 16px ' + SERIF;
    const wF = ctx.measureText('f').width;
    ctx.font = '16px ' + SERIF;
    const wRest = ctx.measureText('  (MHz)').width;
    const x0 = cx - (wF + wRest) / 2;
    ctx.font = 'italic 16px ' + SERIF;
    ctx.fillText('f', x0, ty);
    ctx.font = '16px ' + SERIF;
    ctx.fillText('  (MHz)', x0 + wF, ty);

    // y title: k (rad.mm^-1), rotated
    ctx.save();
    ctx.translate(ca.left - 26, (ca.top + ca.bottom) / 2);
    ctx.rotate(-Math.PI / 2);
    const parts = [
      { t: 'k', f: 'italic 16px ' + SERIF, dy: 0 },
      { t: '  (rad.mm', f: '16px ' + SERIF, dy: 0 },
      { t: '\u22121', f: '11px ' + SERIF, dy: -6 },
      { t: ')', f: '16px ' + SERIF, dy: 0 }
    ];
    let total = 0;
    parts.forEach(p => { ctx.font = p.f; p.w = ctx.measureText(p.t).width; total += p.w; });
    let px = -total / 2;
    parts.forEach(p => { ctx.font = p.f; ctx.fillText(p.t, px, p.dy); px += p.w; });
    ctx.restore();

    // panel tag
    ctx.font = '14px ' + SERIF;
    ctx.textAlign = 'left';
    ctx.fillText(opts.tag, ca.right + opts.labelDx, ca.bottom - 5);
    ctx.restore();
  }
};

panels.forEach(p => {
  const col = COLS[p.col];
  const canvas = document.createElement('canvas');
  canvas.width = col.width;
  canvas.height = TOP_PAD + PLOT_H + 39;
  canvas.style.left = col.left + 'px';
  canvas.style.top = (ROWS[p.row] - TOP_PAD) + 'px';
  document.body.appendChild(canvas);

  const datasets = [];
  datasets.push({
    data: joinTracks(p.blue),
    borderColor: '#1a1ae0',
    borderWidth: 2.8,
    borderDash: [0, 2.3],
    borderCapStyle: 'round',
    pointRadius: 0,
    tension: 0,
    spanGaps: false,
    order: 0
  });
  p.solid.forEach(c => datasets.push({
    data: toPts(c), borderColor: '#858585', borderWidth: 2, pointRadius: 0, tension: 0.3, order: 1
  }));
  p.dashed.forEach(c => datasets.push({
    data: toPts(c), borderColor: '#bdbdbd', borderWidth: 2, borderDash: [7, 5], pointRadius: 0, tension: 0.3, order: 2
  }));

  new Chart(canvas, {
    type: 'line',
    data: { datasets },
    options: {
      responsive: false,
      animation: false,
      events: [],
      layout: { padding: { left: col.padL, right: col.padR, top: TOP_PAD, bottom: 9 } },
      plugins: {
        legend: { display: false },
        tooltip: { enabled: false },
        frame: { tag: p.tag, notes: p.notes, labelDx: col.labelDx }
      },
      scales: {
        x: {
          type: 'linear', min: 0, max: 2,
          grid: { display: false, drawTicks: false },
          border: { display: false },
          afterFit: s => { s.height = X_AXIS_H; },
          afterBuildTicks: s => { s.ticks = fTicks.map(v => ({ value: v })); },
          ticks: { autoSkip: false, maxRotation: 0, padding: 3, color: '#000',
                   font: { family: SERIF, size: 15 }, callback: v => String(v) }
        },
        y: {
          type: 'linear', min: 0, max: 4,
          grid: { display: false, drawTicks: false },
          border: { display: false },
          afterFit: s => { s.width = Y_AXIS_W; },
          afterBuildTicks: s => { s.ticks = kTicks.map(v => ({ value: v })); },
          ticks: { autoSkip: false, padding: 4, color: '#000',
                   font: { family: SERIF, size: 15 }, callback: v => String(v) }
        }
      }
    },
    plugins: [framePlugin]
  });
});
</script>
</body>
</html>
